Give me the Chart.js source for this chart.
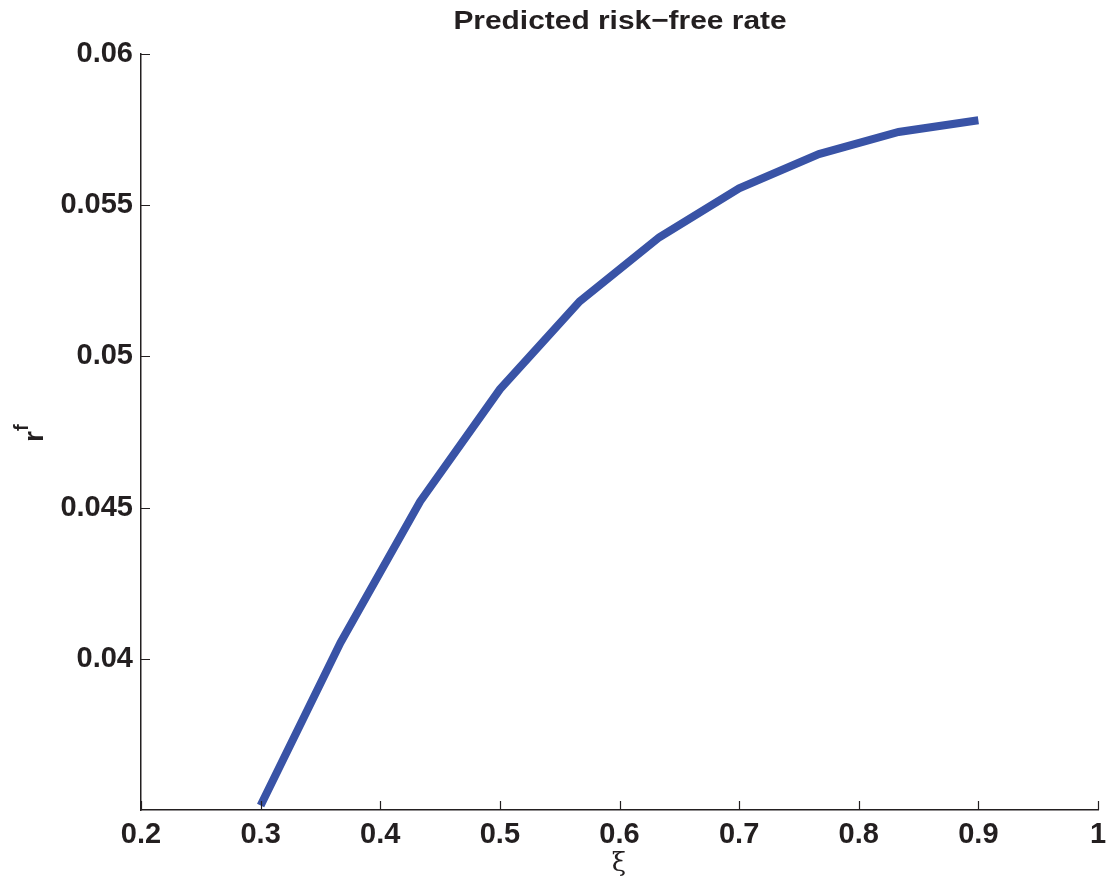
<!DOCTYPE html>
<html>
<head>
<meta charset="utf-8">
<script src="https://cdn.jsdelivr.net/npm/chart.js@4.4.1/dist/chart.umd.min.js"></script>
<style>
    html, body { margin: 0; padding: 0; background: #fff; }
    #wrap { width: 1109px; height: 885px; }
</style>
</head>
<body>
<div id="wrap"><canvas id="myChart" width="1109" height="885"></canvas></div>
<script>
// values
const xiValues = [0.3, 0.3667, 0.4333, 0.5, 0.5667, 0.6333, 0.7, 0.7667, 0.8333, 0.9];
const rfValues = [0.03515, 0.04053, 0.0452, 0.04891, 0.05182, 0.05394, 0.05556, 0.05669, 0.05742, 0.05781];
const xTicks = [0.2, 0.3, 0.4, 0.5, 0.6, 0.7, 0.8, 0.9, 1];
const yTicks = [0.04, 0.045, 0.05, 0.055, 0.06];

const axisColor = '#231f20';
const lineColor = '#3953a6';

// inward tick marks, title and axis labels drawn on top
const decorations = {
    id: 'decorations',
    afterDraw(chart) {
        const ctx = chart.ctx;
        const area = chart.chartArea;
        const xs = chart.scales.x;
        const ys = chart.scales.y;
        ctx.save();
        ctx.strokeStyle = axisColor;
        ctx.lineWidth = 1.2;
        ctx.beginPath();
        xTicks.forEach(v => {
            const px = Math.round(xs.getPixelForValue(v)) + 0.5;
            ctx.moveTo(px, area.bottom);
            ctx.lineTo(px, area.bottom - 9);
        });
        yTicks.forEach(v => {
            const py = Math.round(ys.getPixelForValue(v)) + 0.5;
            ctx.moveTo(area.left, py);
            ctx.lineTo(area.left + 9, py);
        });
        ctx.stroke();

        ctx.fillStyle = axisColor;

        // title
        ctx.save();
        ctx.font = 'bold 26px "Liberation Sans", Arial, sans-serif';
        ctx.textAlign = 'center';
        ctx.textBaseline = 'alphabetic';
        ctx.translate(620, 29);
        ctx.scale(1.15, 1);
        ctx.fillText('Predicted risk\u2212free rate', 0, 0);
        ctx.restore();

        // x label
        ctx.font = '26px "DejaVu Serif", "Liberation Serif", serif';
        ctx.textAlign = 'center';
        ctx.textBaseline = 'alphabetic';
        ctx.fillText('\u03be', 619, 871);

        // y label r^f
        ctx.save();
        ctx.translate(43, 442);
        ctx.rotate(-Math.PI / 2);
        ctx.textAlign = 'left';
        ctx.textBaseline = 'alphabetic';
        ctx.font = 'bold 28px "Liberation Sans", Arial, sans-serif';
        ctx.fillText('r', 0, 0);
        const rw = ctx.measureText('r').width;
        ctx.font = 'bold 20px "Liberation Sans", Arial, sans-serif';
        ctx.fillText('f', rw, -15);
        ctx.restore();

        ctx.restore();
    }
};

const tickFont = { family: '"Liberation Sans", Arial, sans-serif', size: 29, weight: 'bold' };

new Chart(document.getElementById('myChart').getContext('2d'), {
    type: 'line',
    data: {
        datasets: [{
            data: xiValues.map((x, i) => ({ x: x, y: rfValues[i] })),
            borderColor: lineColor,
            borderWidth: 8,
            pointRadius: 0,
            tension: 0,
            fill: false
        }]
    },
    options: {
        responsive: false,
        animation: false,
        layout: { padding: { top: 54, right: 11, left: 0, bottom: 0 } },
        plugins: {
            legend: { display: false },
            title: { display: false },
            tooltip: { enabled: false }
        },
        scales: {
            x: {
                type: 'linear',
                min: 0.2,
                max: 1,
                afterBuildTicks: scale => { scale.ticks = xTicks.map(v => ({ value: v })); },
                afterFit: scale => {
                    scale.height = 75;
                    scale.paddingLeft = 0;
                    scale.paddingRight = 0;
                },
                grid: { display: false, drawTicks: false },
                border: { display: true, color: axisColor, width: 1.5 },
                ticks: {
                    padding: 8,
                    color: axisColor,
                    font: tickFont,
                    maxRotation: 0,
                    callback: v => String(Math.round(v * 10) / 10)
                }
            },
            y: {
                type: 'linear',
                min: 0.035,
                max: 0.06,
                afterBuildTicks: scale => { scale.ticks = yTicks.map(v => ({ value: v })); },
                afterFit: scale => {
                    scale.width = 141;
                    scale.paddingTop = 0;
                    scale.paddingBottom = 0;
                },
                grid: { display: false, drawTicks: false },
                border: { display: true, color: axisColor, width: 1.5 },
                ticks: {
                    padding: 8,
                    color: axisColor,
                    font: tickFont,
                    callback: v => String(Math.round(v * 1000) / 1000)
                }
            }
        }
    },
    plugins: [decorations]
});
</script>
</body>
</html>
